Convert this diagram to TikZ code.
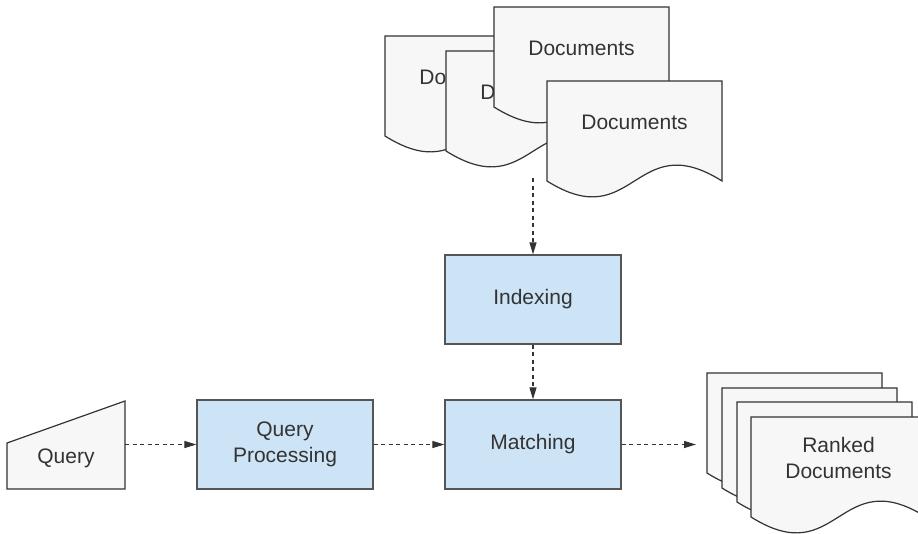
\documentclass[tikz,border=0pt]{standalone}
\usepackage{fontspec}
\setmainfont{Liberation Sans}
\usetikzlibrary{arrows.meta}

\definecolor{boxblue}{RGB}{205,228,246}
\definecolor{pagefill}{RGB}{247,247,247}
\definecolor{inkgray}{RGB}{51,51,51}
\definecolor{edgegray}{RGB}{85,85,85}

% one page of a document stack: #1,#2 = top-left corner, #3 = label, #4 = label node name
\newcommand\docpage[4]{%
  \begin{scope}[shift={(#1,-#2)}]
    \draw[pagestyle] (0,0) -- (175,0) -- (175,-100)
      .. controls (87.5,-45) and (87.5,-155) .. (0,-100) -- cycle;
    \node[labeltext] (#4) at (87.5,-41) {#3};
  \end{scope}}

\begin{document}
\begin{tikzpicture}[x=1pt,y=1pt,
  labeltext/.style={text=inkgray,font=\fontsize{21}{26}\selectfont,align=center,inner sep=0pt},
  pagestyle/.style={draw=inkgray,fill=pagefill,line width=1.2pt,line join=miter},
  procbox/.style={draw=edgegray,fill=boxblue,line width=1.2pt,minimum width=176pt,
    minimum height=89pt,inner sep=0pt,labeltext},
  flow/.style={draw=inkgray,line width=1.1pt,dash pattern=on 4pt off 3.5pt,
    -{Triangle[length=12pt,width=7pt]}}]
\useasboundingbox (0,0) rectangle (918,-533);

% incoming document collection
\docpage{385}{36}{Documents}{docA}
\docpage{446}{51}{Documents}{docB}
\docpage{494}{7}{Documents}{docC}
\docpage{547}{81}{Documents}{docD}
\coordinate (docsout) at (533,-178);

% query input (manual input shape)
\draw[pagestyle] (7,-443) -- (125,-401) -- (125,-489) -- (7,-489) -- cycle;
\node[labeltext] (query) at (66,-458) {Query};
\coordinate (queryout) at (125,-444.5);

% processing steps
\node[procbox] (indexing) at (533,-299.5) {Indexing};
\node[procbox] (qproc) at (285,-444.5) {Query\\Processing};
\node[procbox] (matching) at (533,-444.5) {Matching};

% ranked result stack
\docpage{707}{373}{}{rankA}
\docpage{722}{388}{}{rankB}
\docpage{737}{402}{}{rankC}
\docpage{751}{417}{Ranked\\Documents}{rankD}
\coordinate (rankin) at (696,-444.5);

% connectors
\draw[flow] (docsout) -- (indexing.north);
\draw[flow] (indexing.south) -- (matching.north);
\draw[flow] (queryout) -- (qproc.west);
\draw[flow] (qproc.east) -- (matching.west);
\draw[flow] (matching.east) -- (rankin);
\end{tikzpicture}
\end{document}
